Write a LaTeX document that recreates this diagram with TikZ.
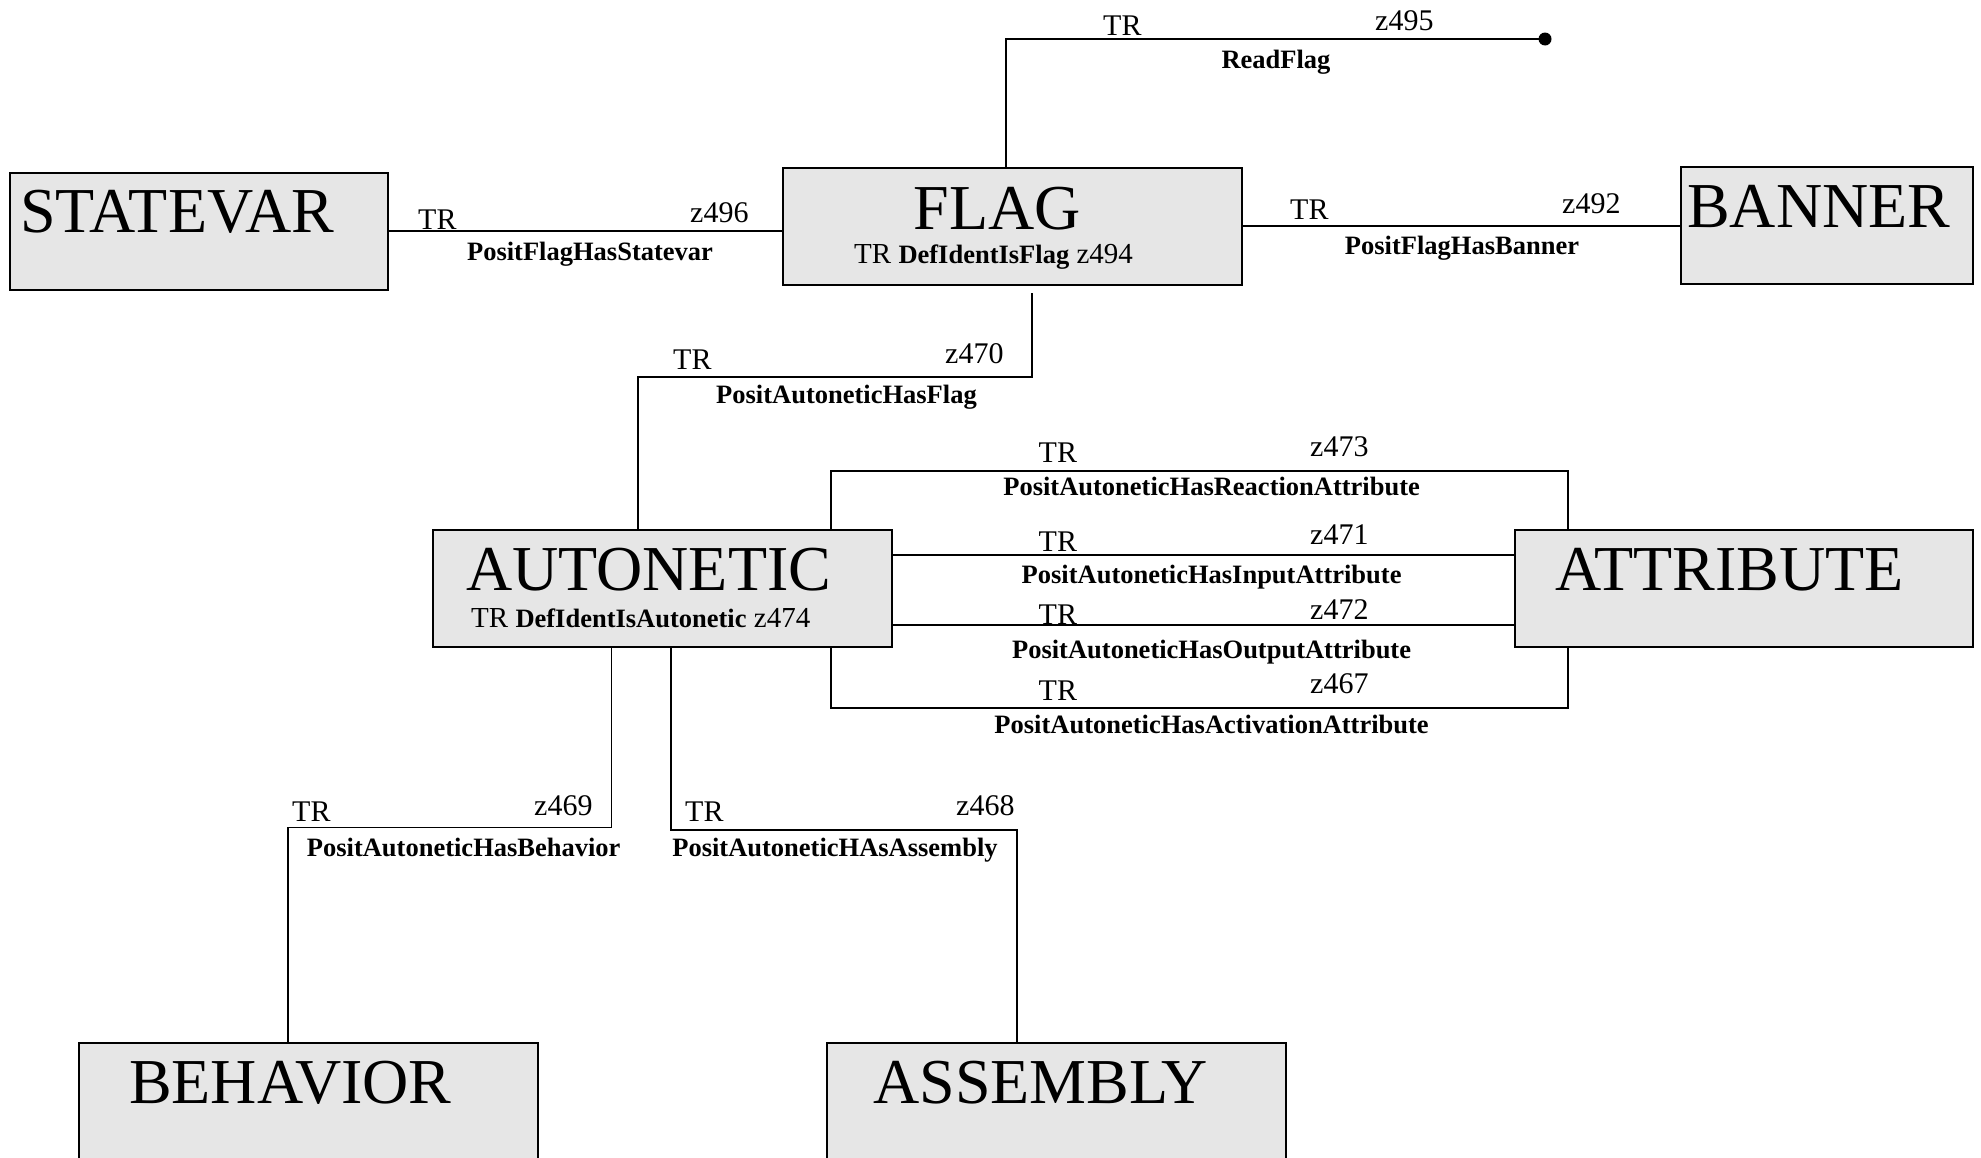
\documentclass[tikz,border=0pt]{standalone}
\usepackage{fontspec}
\setmainfont{Liberation Serif}
\definecolor{boxgray}{HTML}{E6E6E6}
\begin{document}
\begin{tikzpicture}[x=1pt,y=-1pt,
  box/.style={draw, line width=2pt, fill=boxgray, anchor=north west, inner sep=0pt, minimum width=459pt, minimum height=117pt},
  title/.style={anchor=base west, inner sep=0pt, font=\fontsize{64}{70}\selectfont},
  ttl/.style={anchor=base west, inner sep=0pt, font=\fontsize{30}{34}\selectfont},
  sub/.style={anchor=base west, inner sep=0pt, font=\fontsize{29}{34}\selectfont},
  rel/.style={anchor=base, inner sep=0pt, font=\bfseries\fontsize{26.5}{30}\selectfont},
  conn/.style={line width=2pt},
  thinconn/.style={line width=1.6pt}]
\clip (0,0) rectangle (1981,1157);
\fill[white] (0,0) rectangle (1981,1157);
% boxes
\node[box, minimum width=378pt] (statevar) at (9,172) {};
\node[box] (flag) at (782,167) {};
\node[box, minimum width=292pt] (banner) at (1680,166) {};
\node[box] (autonetic) at (432,529) {};
\node[box, minimum width=458pt] (attribute) at (1514,529) {};
\node[box, minimum height=160pt] (behavior) at (78,1042) {};
\node[box, minimum height=160pt] (assembly) at (826,1042) {};
% titles
\node[title] (tstatevar) at (20,232.5) {STATEVAR};
\node[title, anchor=base] (tflag) at (997,229) {FLAG};
\node[sub] (sflag) at (854,263) {TR {\bfseries\fontsize{26.5}{30}\selectfont DefIdentIsFlag} z494};
\node[title] (tbanner) at (1687,227) {BANNER};
\node[title] (tautonetic) at (466,590) {AUTONETIC};
\node[sub] (sautonetic) at (471,627) {TR {\bfseries\fontsize{26.5}{30}\selectfont DefIdentIsAutonetic} z474};
\node[title] (tattribute) at (1555,590) {ATTRIBUTE};
\node[title] (tbehavior) at (129,1103) {BEHAVIOR};
\node[title] (tassembly) at (873,1103) {ASSEMBLY};
% connectors
\draw[conn] (statevar.east |- 0,231) -- (flag.west |- 0,231);
\node[ttl] (tr1) at (418,229) {TR};
\node[ttl] (z1) at (690,222) {z496};
\node[rel] (r1) at (590,260) {PositFlagHasStatevar};

\draw[conn] (flag.east |- 0,226) -- (banner.west |- 0,226);
\node[ttl] (tr2) at (1290,219) {TR};
\node[ttl] (z2) at (1562,213.5) {z492};
\node[rel] (r2) at (1462,254) {PositFlagHasBanner};

\coordinate (readend) at (1545,39);
\draw[conn] (flag.north -| 1006,0) -- (1006,39) -- (readend);
\fill (readend) circle (6.5pt);
\node[ttl] (tr3) at (1103,35) {TR};
\node[ttl] (z3) at (1375,30) {z495};
\node[rel] (r3) at (1276,68) {ReadFlag};

\coordinate (aflag) at (1032,293);
\draw[conn] (aflag) -- (1032,376.5) -- (638,376.5) -- (autonetic.north -| 638,0);
\node[ttl] (tr4) at (673,369) {TR};
\node[ttl] (z4) at (945,363) {z470};
\node[rel] (r4) at (846.5,403) {PositAutoneticHasFlag};

\draw[conn] (autonetic.north -| 831,0) -- (831,471) -- (1568,471) -- (attribute.north -| 1568,0);
\node[ttl] (tr5) at (1038.5,462) {TR};
\node[ttl] (z5) at (1310,456) {z473};
\node[rel] (r5) at (1211.6,495) {PositAutoneticHasReactionAttribute};

\draw[conn] (autonetic.east |- 0,554.6) -- (attribute.west |- 0,554.6);
\node[ttl] (tr6) at (1038.5,551) {TR};
\node[ttl] (z6) at (1310,544.5) {z471};
\node[rel] (r6) at (1211.6,583.7) {PositAutoneticHasInputAttribute};

\draw[conn] (autonetic.east |- 0,625.4) -- (attribute.west |- 0,625.4);
\node[ttl] (tr7) at (1038.5,624) {TR};
\node[ttl] (z7) at (1310,619) {z472};
\node[rel] (r7) at (1211.6,658) {PositAutoneticHasOutputAttribute};

\draw[conn] (autonetic.south -| 831,0) -- (831,707.5) -- (1568,707.5) -- (attribute.south -| 1568,0);
\node[ttl] (tr8) at (1038.5,700) {TR};
\node[ttl] (z8) at (1310,693.6) {z467};
\node[rel] (r8) at (1211.6,733) {PositAutoneticHasActivationAttribute};

\draw[thinconn] (autonetic.south -| 611.5,0) -- (611.5,827.5) -- (288,827.5) -- (behavior.north -| 288,0);
\node[ttl] (tr9) at (292,821) {TR};
\node[ttl] (z9) at (534,815) {z469};
\node[rel] (r9) at (463.7,856.6) {PositAutoneticHasBehavior};

\draw[thinconn] (autonetic.south -| 671,0) -- (671,830) -- (1017,830) -- (assembly.north -| 1017,0);
\node[ttl] (tr10) at (685,821) {TR};
\node[ttl] (z10) at (956,815) {z468};
\node[rel] (r10) at (835,856.6) {PositAutoneticHAsAssembly};
\end{tikzpicture}
\end{document}
